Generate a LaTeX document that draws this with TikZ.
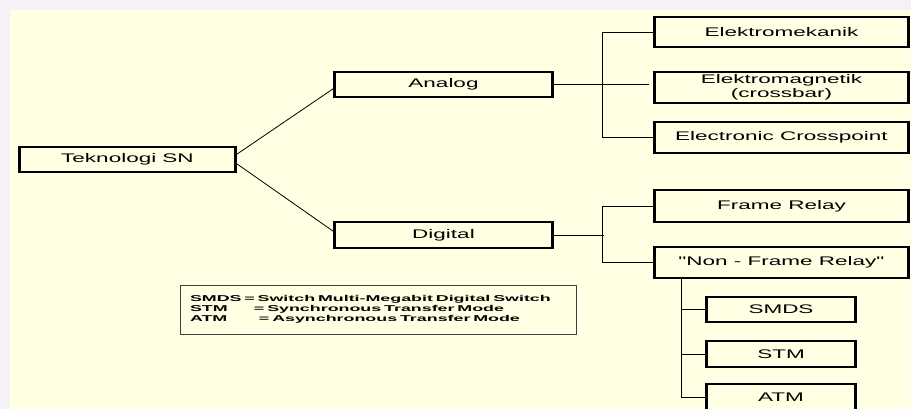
\documentclass[tikz,border=0pt]{standalone}
\usepackage{fontspec}
\newfontfamily\boxfont{Liberation Sans}[FakeStretch=1.8]
\newfontfamily\notefont{Liberation Sans}[FakeStretch=2.1]
\definecolor{cream}{HTML}{FFFFE4}
\definecolor{haze}{HTML}{F4F2F7}

\begin{document}
\begin{tikzpicture}[x=1pt,y=-1pt,
  box/.style={draw, fill=cream, line width=1.4pt, inner sep=0pt, align=center,
    font=\boxfont\fontsize{12.5}{13.5}\selectfont,
    append after command={(\tikzlastnode.north west) edge[line width=3pt] (\tikzlastnode.south west)
      (\tikzlastnode.north east) edge[line width=2.6pt] (\tikzlastnode.south east)}},
  midbox/.style={box, minimum width=217pt, minimum height=25pt},
  widebox/.style={box, minimum width=253pt, minimum height=31pt},
  leafbox/.style={box, minimum width=148pt, minimum height=25pt},
  link/.style={line width=0.8pt}]
  \useasboundingbox (0,0) rectangle (911,409);
  \clip (0,0) rectangle (911,409);
  \fill[haze] (0,0) rectangle (911,409);
  \fill[cream] (10,10) rectangle (911,409);

  \node[box, minimum width=215pt, minimum height=25pt] at (127.5,159.5) (tekno) {Teknologi SN};
  \node[midbox] at (443.5,84.5) (analog) {Analog};
  \node[midbox, minimum height=26pt] at (443.5,235) (digital) {Digital};
  \node[widebox, minimum height=30pt] at (781.5,32) (elmek) {Elektromekanik};
  \node[widebox] at (781.5,87.5) (elmag) {Elektromagnetik\\(crossbar)};
  \node[widebox] at (781.5,137.5) (elcross) {Electronic Crosspoint};
  \node[widebox, minimum height=32pt] at (781.5,206) (frame) {Frame Relay};
  \node[widebox] at (781.5,262.5) (nonframe) {"Non - Frame Relay"};
  \node[leafbox] at (781,309.5) (smds) {SMDS};
  \node[leafbox, minimum height=26pt] at (781,354) (stm) {STM};
  \node[leafbox, minimum height=26pt] at (781,397) (atm) {ATM};
  \node[draw=black!75, line width=1pt, fill=cream, text width=376pt, inner xsep=10pt,
    minimum height=49pt, align=left, font=\notefont\bfseries\fontsize{8.5}{10}\selectfont]
    at (378,309.5) (legend) {SMDS = Switch Multi-Megabit Digital Switch\\
    \makebox[64pt][l]{STM}= Synchronous Transfer Mode\\
    \makebox[69pt][l]{ATM}= Asynchronous Transfer Mode};

  \draw[link] ([yshift=4.5pt]tekno.east) -- ([yshift=-3.5pt]analog.west);
  \draw[link] ([yshift=-3.5pt]tekno.east) -- ([yshift=3pt]digital.west);
  \draw[link] (analog.east) -- ++(96,0);
  \draw[link] (elmek.west) -- ++(-52,0) |- (elcross.west);
  \draw[link] (digital.east) -- ++(51,0);
  \draw[link] (frame.west) -- ++(-52,0) |- (nonframe.west);
  \coordinate (nfr) at ([xshift=27pt]nonframe.south west);
  \foreach \leaf in {smds,stm,atm}
    \draw[link] (nfr) |- (\leaf.west);
\end{tikzpicture}
\end{document}
